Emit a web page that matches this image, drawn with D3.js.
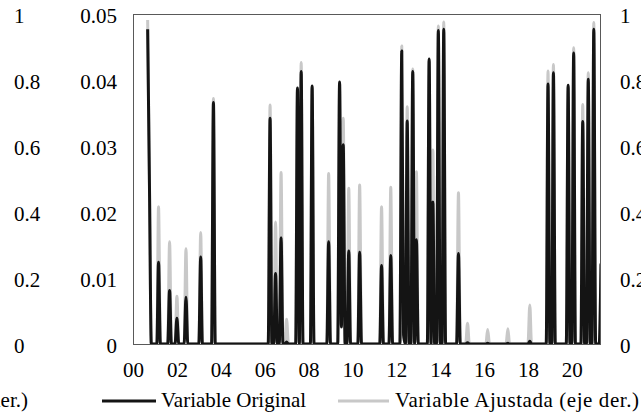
<!DOCTYPE html>
<html>
<head>
<meta charset="utf-8">
<script src="https://cdn.jsdelivr.net/npm/d3@7"></script>
<style>
  body { margin: 0; background: #fff; overflow: hidden; }
</style>
</head>
<body>
<div id="chart-container"></div>
<script>
// months with a non-zero value (every other month of the range is 0)
var months = ["2000-09","2000-10","2001-03","2001-09","2002-01","2002-06","2003-02","2003-09",
  "2006-04","2006-07","2006-10","2007-01","2007-07","2007-09","2008-03","2008-12",
  "2009-06","2009-07","2009-08","2009-11","2010-05","2011-05","2011-10",
  "2012-04","2012-05","2012-07","2012-10","2012-12","2013-07","2013-09","2013-12","2014-03",
  "2014-11","2015-04","2016-03","2017-02","2018-02",
  "2018-12","2019-03","2019-11","2020-02","2020-07","2020-10","2021-01","2021-05"];

var original = [0.0477,0.024,0.0124,0.0081,0.0039,0.0071,0.0132,0.0366,
  0.0342,0.0107,0.0161,0.0003,0.0388,0.0413,0.0391,0.0155,
  0.0397,0.0026,0.0302,0.0141,0.0139,0.0119,0.0134,
  0.0444,0.0014,0.0338,0.0413,0.0158,0.0432,0.0215,0.0475,0.0477,
  0.0137,0.0002,0.0001,0.0001,0.0004,
  0.0394,0.0411,0.0392,0.0441,0.0337,0.0401,0.0477,0.0122];

var ajustada = [0.982,0.49,0.416,0.31,0.145,0.289,0.338,0.744,
  0.724,0.37,0.52,0.075,0.77,0.853,0.78,0.517,
  0.79,0.05,0.684,0.472,0.482,0.416,0.475,
  0.903,0.03,0.719,0.833,0.522,0.86,0.588,0.964,0.976,
  0.458,0.063,0.044,0.046,0.118,
  0.827,0.847,0.78,0.898,0.726,0.822,0.974,0.24];

var startMonth = "2000-09", endMonth = "2021-05", axisStart = "2000-01";
var ticksLeft = [0, 0.01, 0.02, 0.03, 0.04, 0.05];
var ticksRight = [0, 0.2, 0.4, 0.6, 0.8, 1];
var tickYears = ["2000","2002","2004","2006","2008","2010","2012","2014","2016","2018","2020"];
var legendLabels = ["Variable Original", "Variable Ajustada (eje der.)"];

var parseMonth = d3.timeParse("%Y-%m");
var fmtMonth = d3.timeFormat("%Y-%m");

// build monthly series
var lookup = {};
months.forEach(function(m, i){ lookup[m] = i; });
var series = d3.timeMonth.range(parseMonth(startMonth), d3.timeMonth.offset(parseMonth(endMonth), 1))
  .map(function(d){
    var i = lookup[fmtMonth(d)];
    return { date: d, orig: i === undefined ? 0 : original[i], adj: i === undefined ? 0 : ajustada[i] };
  });

var W = 641, H = 419;
var plot = { left: 133, right: 601, top: 14, bottom: 344 };
var font = "'Liberation Serif', 'Times New Roman', serif";
var fs = 21;

var x = d3.scaleTime()
  .domain([parseMonth(axisStart), parseMonth(endMonth)])
  .range([plot.left, plot.right]);

var yL = d3.scaleLinear().domain([0, 0.05]).range([plot.bottom, plot.top]);
var yR = d3.scaleLinear().domain([0, 1]).range([plot.bottom, plot.top]);

var svg = d3.select("#chart-container").append("svg")
  .attr("width", W).attr("height", H);

function styleAxis(g, anchor){
  g.attr("font-family", font).attr("font-size", fs);
  g.select(".domain").remove();
  g.selectAll("text").attr("fill", "#000").attr("text-anchor", anchor);
}

// outer left axis (0-1, cut from neighbouring panel)
svg.append("g")
  .attr("transform", "translate(14,0)")
  .call(d3.axisRight(yR).tickValues(ticksRight).tickSize(0).tickPadding(0).tickFormat(d3.format("~g")))
  .call(function(g){ styleAxis(g, "start"); g.selectAll("text").attr("dy", "0.4em"); });

// inner left axis
svg.append("g")
  .attr("transform", "translate(" + plot.left + ",0)")
  .call(d3.axisLeft(yL).tickValues(ticksLeft).tickSize(0).tickPadding(16)
    .tickFormat(function(d){ return d === 0 ? "0" : d3.format(".2f")(d); }))
  .call(function(g){ styleAxis(g, "end"); g.selectAll("text").attr("dy", "0.4em"); });

// right axis
svg.append("g")
  .attr("transform", "translate(" + plot.right + ",0)")
  .call(d3.axisRight(yR).tickValues(ticksRight).tickSize(0).tickPadding(19).tickFormat(d3.format("~g")))
  .call(function(g){ styleAxis(g, "start"); g.selectAll("text").attr("dy", "0.4em"); });

// x axis
svg.append("g")
  .attr("transform", "translate(0," + plot.bottom + ")")
  .call(d3.axisBottom(x).tickValues(tickYears.map(d3.timeParse("%Y"))).tickSize(0).tickPadding(18)
    .tickFormat(d3.timeFormat("%y")))
  .call(function(g){ styleAxis(g, "middle"); });

svg.append("clipPath").attr("id", "clip")
  .append("rect")
  .attr("x", plot.left).attr("y", plot.top - 10)
  .attr("width", plot.right - plot.left).attr("height", plot.bottom - plot.top + 10);

var lineAdj = d3.line().x(function(d){ return x(d.date); }).y(function(d){ return yR(d.adj); })
  .curve(d3.curveMonotoneX);
var lineOrig = d3.line().x(function(d){ return x(d.date); }).y(function(d){ return yL(d.orig); })
  .curve(d3.curveMonotoneX);

var lines = svg.append("g").attr("clip-path", "url(#clip)");
lines.append("path").datum(series)
  .attr("d", lineAdj)
  .attr("fill", "none").attr("stroke", "#c8c8c8").attr("stroke-width", 3).attr("stroke-linejoin", "round");
lines.append("path").datum(series)
  .attr("d", lineOrig)
  .attr("fill", "none").attr("stroke", "#141414").attr("stroke-width", 3).attr("stroke-linejoin", "round");

// frame
svg.append("rect")
  .attr("x", plot.left + 0.5).attr("y", plot.top + 0.5)
  .attr("width", plot.right - plot.left - 1).attr("height", plot.bottom - plot.top)
  .attr("fill", "none").attr("stroke", "#595959").attr("stroke-width", 1);

// legend
var ly = 401;
svg.append("text").attr("x", 28).attr("y", ly + 6).attr("text-anchor", "end")
  .attr("font-family", font).attr("font-size", fs).text(legendLabels[1]);

var legend = [
  { label: legendLabels[0], color: "#141414", x0: 102, x1: 156, tx: 161, len: null },
  { label: legendLabels[1], color: "#c8c8c8", x0: 338, x1: 389, tx: 395, len: 244 }
];
var lg = svg.append("g").selectAll("g").data(legend).enter().append("g");
lg.append("line")
  .attr("x1", function(d){ return d.x0; }).attr("x2", function(d){ return d.x1; })
  .attr("y1", ly).attr("y2", ly)
  .attr("stroke", function(d){ return d.color; }).attr("stroke-width", 3);
lg.append("text")
  .attr("x", function(d){ return d.tx; }).attr("y", ly + 6)
  .attr("font-family", font).attr("font-size", fs)
  .attr("textLength", function(d){ return d.len; })
  .attr("lengthAdjust", "spacing")
  .text(function(d){ return d.label; });
</script>
</body>
</html>
